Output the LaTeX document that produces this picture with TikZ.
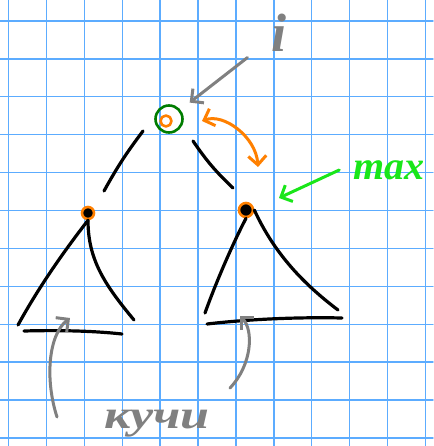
\documentclass[tikz,border=0pt]{standalone}
\usepackage{fontspec}
\setmainfont{Liberation Serif}
\usetikzlibrary{arrows.meta}
\definecolor{GridBlue}{RGB}{92,172,255}
\definecolor{PenOrange}{RGB}{255,128,0}
\definecolor{PenGreen}{RGB}{0,125,0}
\definecolor{PenLime}{RGB}{25,230,25}
\definecolor{PenGray}{RGB}{128,128,128}

\begin{document}
\begin{tikzpicture}[x=1pt, y=-1pt, line cap=round, line join=round,
  pen/.style={line width=3.2pt, black},
  gp/.style={line width=3pt, PenGray},
  barb/.style={-{Straight Barb[length=9pt, width=18pt, line width=3pt]}},
  vx/.style={circle, draw=PenOrange, line width=2.6pt, inner sep=0pt, minimum size=12pt},
  hand/.style={inner sep=0pt, font=\bfseries\itshape\fontsize{40}{40}\selectfont}]
\fill[white] (0,0) rectangle (433,446);
\useasboundingbox (0,0) rectangle (433,446);
% grid paper
\foreach \k in {0,...,11} {
  \draw[GridBlue, line width=1.4pt] ({8.5+37.9*\k},0) -- ({8.5+37.9*\k},446);
  \draw[GridBlue, line width=1.4pt] (0,{21+37.9*\k}) -- (433,{21+37.9*\k});
}
% tree nodes
\node[circle, draw=PenGreen, line width=2.6pt, minimum width=27pt, minimum height=23pt, inner sep=0pt] (rootring) at (169,119) {};
\node[vx, minimum size=11pt] (root) at (166,121) {};
\node[vx, fill=black] (left) at (88,213) {};
\node[vx, fill=black, minimum size=14pt] (right) at (246,210) {};
% edges
\draw[pen] ([shift={(-23pt,-10pt)}]root.center) to[bend right=4] ([shift={(16pt,22pt)}]left.center);
\draw[pen] ([shift={(27pt,-20pt)}]root.center) to[bend right=6] ([shift={(-13pt,22pt)}]right.center);
% subtrees
\draw[pen] (left.south) .. controls (65,250) and (40,285) .. (18,325);
\draw[pen] (left.south) .. controls (88,260) and (105,285) .. (134,320);
\draw[pen] (24,331) .. controls (60,330) and (95,331) .. (122,334);
\draw[pen] (right.south) .. controls (232,245) and (215,285) .. (205,313);
\draw[pen] (right.east) .. controls (275,255) and (305,285) .. (338,310);
\draw[pen] (207,324) .. controls (250,319) and (300,317) .. (342,318);
% labels
\node[hand, text=PenGray, font=\bfseries\itshape\fontsize{54}{54}\selectfont] (ilabel) at (279,33) {i};
\node[hand, text=PenLime] (maxlabel) at (389,170) {max};
\node[hand, text=PenGray] (heaplabel) at (157,424) {\scalebox{1.3}[1]{кучи}};
\coordinate (lheap) at (70,318);
\coordinate (rheap) at (240,316);
% arrows
\draw[gp, barb, shorten <=40pt, shorten >=30pt] (ilabel.center) -- (root.center);
\draw[PenOrange, line width=3pt, {Straight Barb[length=9pt, width=18pt, line width=3pt]}-{Straight Barb[length=9pt, width=18pt, line width=3pt]}]
  ([xshift=36pt]root.center) .. controls +(22pt,8pt) and +(-2pt,30pt) .. ([shift={(12pt,43pt)}]right.center);
\draw[PenLime, line width=3pt, barb] ([xshift=-14pt]maxlabel.west) -- ([shift={(33pt,12pt)}]right.center);
\draw[gp, barb] ([shift={(-100pt,7pt)}]heaplabel.center) .. controls (45,380) and (48,335) .. (lheap);
\draw[gp, barb] ([shift={(73pt,36pt)}]heaplabel.center) .. controls (252,365) and (254,330) .. (rheap);
\end{tikzpicture}
\end{document}
